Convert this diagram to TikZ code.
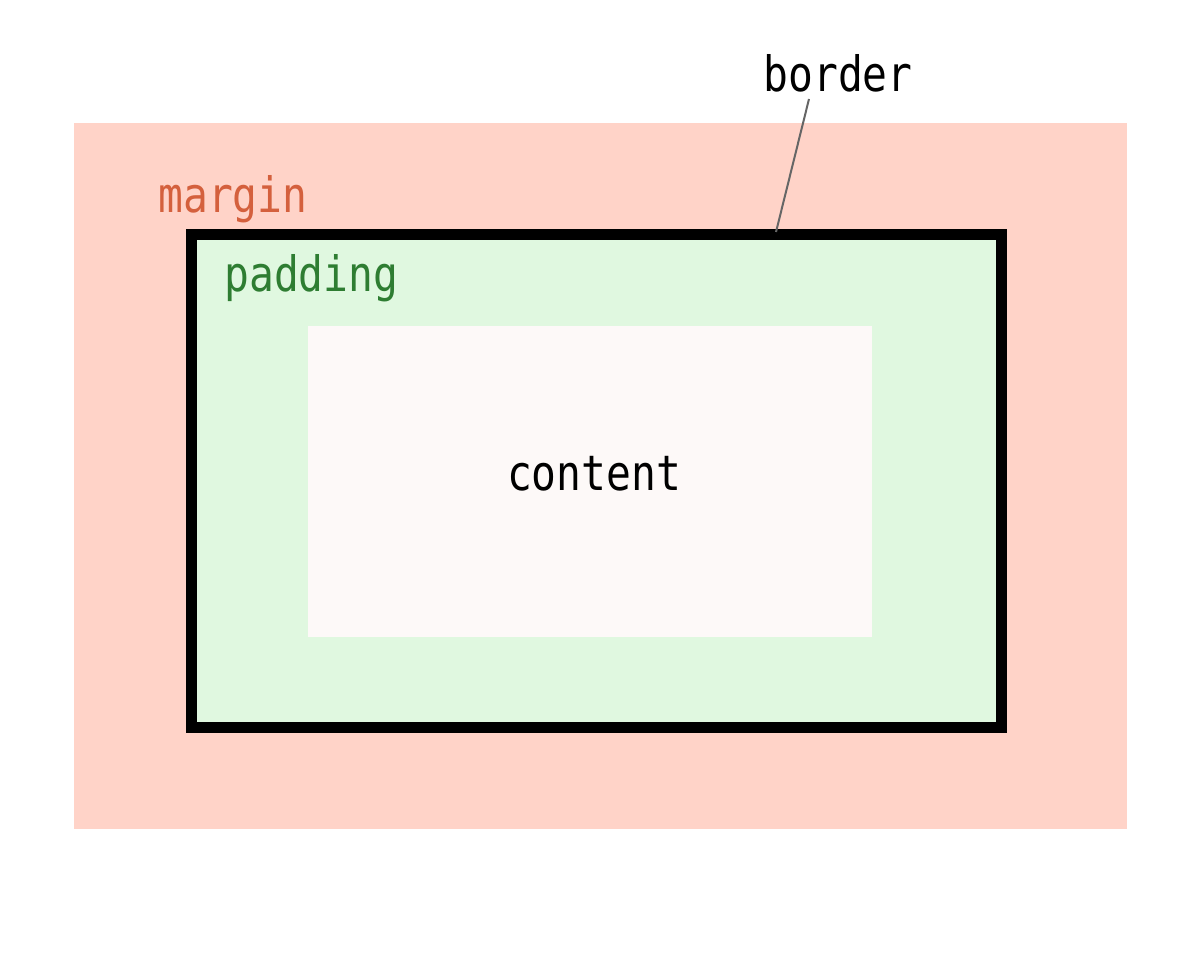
\documentclass[tikz,border=0pt]{standalone}
\usepackage{fontspec}
\setmonofont{DejaVu Sans Mono}
\definecolor{marginfill}{HTML}{FFD3C8}
\definecolor{padfill}{HTML}{E0F8E0}
\definecolor{contentfill}{HTML}{FDF9F8}
\definecolor{margintext}{HTML}{D4603D}
\definecolor{padtext}{HTML}{2E7D32}
\definecolor{leader}{HTML}{666666}
\newcommand{\tallmono}[1]{\scalebox{1}[1.18]{#1}}
\tikzset{
  lbl/.style={inner sep=0pt, font=\ttfamily\fontsize{23.5}{28}\selectfont},
}
\begin{document}
\begin{tikzpicture}[x=0.02cm,y=-0.02cm]
\useasboundingbox (0,0) rectangle (1200,966);
\fill[white] (0,0) rectangle (1200,966);
\fill[marginfill] (74,123) rectangle (1127,829);
\filldraw[fill=padfill, draw=black, line width=0.22cm] (191.5,234.5) rectangle (1001.5,727.5);
\fill[contentfill] (308,326) rectangle (872,637);
\node[lbl, text=margintext, anchor=base west] (margin) at (158,213) {\tallmono{margin}};
\node[lbl, text=padtext, anchor=base west] (padding) at (224,292) {\tallmono{padding}};
\node[lbl, anchor=base] (content) at (594,490) {\tallmono{content}};
\node[lbl, anchor=base] (border) at (838,92) {\tallmono{border}};
\coordinate (bordertop) at (776,232);
\coordinate (leadtop) at (809,99);
\draw[leader, line width=0.04cm] (leadtop) -- (bordertop);
\end{tikzpicture}
\end{document}
